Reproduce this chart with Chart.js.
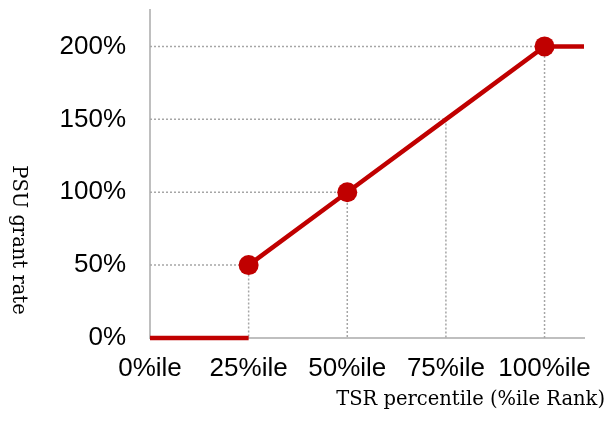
<!DOCTYPE html>
<html lang="en">
<head>
    <meta charset="UTF-8" />
    <title>PSU grant rate vs TSR percentile</title>
    <script src="https://cdn.jsdelivr.net/npm/chart.js@4.4.0/dist/chart.umd.min.js"></script>
    <style>
        html, body { margin: 0; padding: 0; background: #fff; }
        #wrap { width: 606px; height: 424px; }
    </style>
</head>
<body>
    <div id="wrap">
        <canvas id="myChart" width="606" height="424"></canvas>
    </div>
    <script>
        // Data
        const xTicks = [0, 25, 50, 75, 100];
        const yTicks = [0, 50, 100, 150, 200];
        const belowX = [0, 25];
        const belowY = [0, 0];
        const payoutX = [25, 50, 75, 100, 110];
        const payoutY = [50, 100, 150, 200, 200];
        const markerShown = [true, true, false, true, false];
        const guideX = [25, 50, 75, 100];
        const guideY = [50, 100, 150, 200];

        const red = "#c00000";
        const guideColor = "#a6a6a6";
        const axisColor = "#bfbfbf";

        const pairs = (xs, ys) => xs.map((x, i) => ({ x, y: ys[i] }));

        // dotted drop lines from each level to the axis
        const guideSets = guideX.map((gx, i) => ({
            data: [{ x: 0, y: guideY[i] }, { x: gx, y: guideY[i] }, { x: gx, y: 0 }],
            borderColor: guideColor,
            borderWidth: 1.5,
            borderDash: [2, 2],
            pointRadius: 0,
            tension: 0,
            order: 3,
        }));

        const noPad = s => {
            s.paddingTop = 0;
            s.paddingBottom = 0;
            s.paddingLeft = 0;
            s.paddingRight = 0;
        };

        const axisTitles = {
            id: "axisTitles",
            afterDraw(chart) {
                const ctx = chart.ctx;
                ctx.save();
                ctx.fillStyle = "#000";
                ctx.font = "19.5px 'DejaVu Serif'";
                ctx.textAlign = "right";
                ctx.textBaseline = "alphabetic";
                ctx.fillText("TSR percentile (%ile Rank)", 605, 405);
                ctx.translate(13, 240);
                ctx.rotate(Math.PI / 2);
                ctx.textAlign = "center";
                ctx.fillText("PSU grant rate", 0, 0);
                ctx.restore();
            },
        };

        new Chart(document.getElementById("myChart"), {
            type: "line",
            data: {
                datasets: [
                    ...guideSets,
                    {
                        data: pairs(belowX, belowY),
                        borderColor: red,
                        borderWidth: 4.5,
                        pointRadius: 0,
                        clip: 6,
                        order: 1,
                    },
                    {
                        data: pairs(payoutX, payoutY),
                        borderColor: red,
                        backgroundColor: red,
                        borderWidth: 4.5,
                        pointRadius: markerShown.map(m => (m ? 10 : 0)),
                        pointBorderWidth: 0,
                        pointBackgroundColor: red,
                        order: 0,
                    },
                ],
            },
            options: {
                responsive: false,
                animation: false,
                devicePixelRatio: 1,
                layout: { padding: { top: 5, right: 22, left: 0, bottom: 0 } },
                plugins: {
                    legend: { display: false },
                    tooltip: { enabled: false },
                },
                scales: {
                    x: {
                        type: "linear",
                        min: 0,
                        max: 110,
                        afterFit: s => { s.height = 86; noPad(s); },
                        afterBuildTicks: s => { s.ticks = xTicks.map(v => ({ value: v })); },
                        grid: { display: false, drawTicks: false },
                        border: { display: true, color: axisColor, width: 2 },
                        ticks: {
                            padding: 15,
                            color: "#000",
                            maxRotation: 0,
                            autoSkip: false,
                            font: { family: "'Liberation Sans', Arial", size: 26 },
                            callback: v => v + "%ile",
                        },
                    },
                    y: {
                        type: "linear",
                        min: 0,
                        max: 225,
                        afterFit: s => { s.width = 150; noPad(s); },
                        afterBuildTicks: s => { s.ticks = yTicks.map(v => ({ value: v })); },
                        grid: { display: false, drawTicks: false },
                        border: { display: true, color: axisColor, width: 2 },
                        ticks: {
                            padding: 24,
                            color: "#000",
                            font: { family: "'Liberation Sans', Arial", size: 26 },
                            callback: v => v + "%",
                        },
                    },
                },
            },
            plugins: [axisTitles],
        });
    </script>
</body>
</html>
